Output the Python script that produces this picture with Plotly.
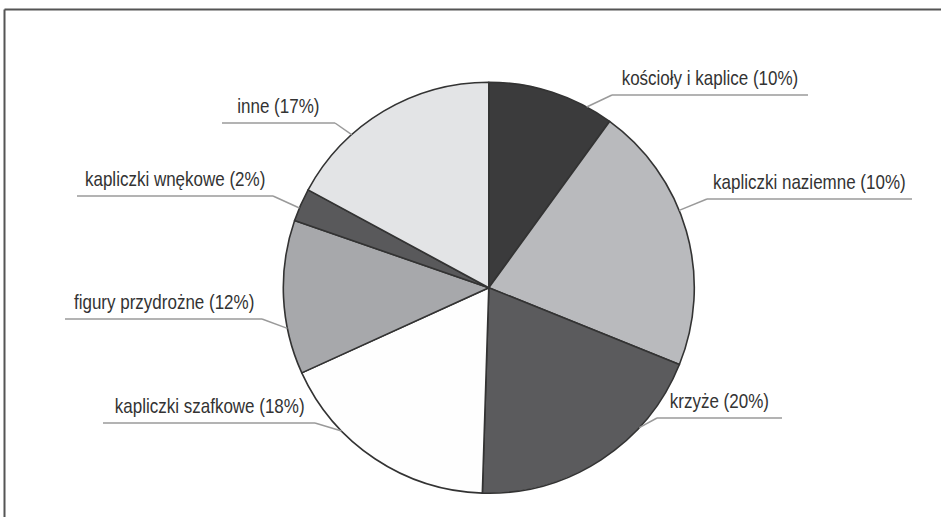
import math
import plotly.graph_objects as go

# ---- data ----
categories = ["kościoły i kaplice", "kapliczki naziemne", "krzyże", "kapliczki szafkowe",
              "figury przydrożne", "kapliczki wnękowe", "inne"]
label_pct = [10, 10, 20, 18, 12, 2, 17]
slice_values = [10.0, 21.1, 19.4, 17.7, 12.1, 2.6, 17.1]

# ---- styles ----
colors = ["#3b3b3c", "#b9babd", "#5b5b5d", "#fefefe", "#a7a8ab", "#59595b", "#e3e4e6"]
W, H = 941, 517
CX, CY, R = 488.8, 287.7, 205.5          # pie centre / radius in pixels
FONT = "Liberation Sans, Arial, sans-serif"
FONT_SIZE = 20
CONDENSE = 0.85                          # horizontal condensing of the label font

# label layout: where along the slice the leader starts, underline y and x-extent (pixels)
label_layout = [
    dict(frac=0.79, y=95,  x0=612, x1=808, side="right"),
    dict(frac=0.42, y=199, x0=707, x1=912, side="right"),
    dict(frac=0.30, y=418, x0=657, x1=782, side="right"),
    dict(frac=0.69, y=423, x0=103, x1=315, side="left"),
    dict(frac=0.30, y=319, x0=65,  x1=262, side="left"),
    dict(frac=0.40, y=196, x0=77,  x1=273, side="left"),
    dict(frac=0.32, y=123, x0=222, x1=335, side="left"),
]

def px(x):
    return x / W

def py(y):
    return 1 - y / H

fig = go.Figure(go.Pie(
    labels=categories,
    values=slice_values,
    sort=False,
    direction="clockwise",
    rotation=0,
    marker=dict(colors=colors, line=dict(color="#333333", width=1.6)),
    textinfo="none",
    hoverinfo="skip",
    showlegend=False,
    domain=dict(x=[px(CX - R), px(CX + R)], y=[py(CY + R), py(CY - R)]),
))

shapes = []
annotations = []
total = sum(slice_values)
cum = 0.0
for cat, pct, v, lay in zip(categories, label_pct, slice_values, label_layout):
    a0 = cum / total * 360
    a1 = (cum + v) / total * 360
    cum += v
    ang = math.radians(a0 + lay["frac"] * (a1 - a0))
    ax = CX + R * math.sin(ang)
    ay = CY - R * math.cos(ang)
    ex = lay["x0"] if lay["side"] == "right" else lay["x1"]
    line_style = dict(color="#9a9a9a", width=1.5)
    shapes.append(dict(type="line", xref="paper", yref="paper",
                       x0=px(ax), y0=py(ay), x1=px(ex), y1=py(lay["y"]), line=line_style))
    shapes.append(dict(type="line", xref="paper", yref="paper",
                       x0=px(lay["x0"]), y0=py(lay["y"]), x1=px(lay["x1"]), y1=py(lay["y"]),
                       line=line_style))
    annotations.append(dict(
        x=px((lay["x0"] + lay["x1"]) / 2), y=py(lay["y"] - 17),
        xref="paper", yref="paper", xanchor="center", yanchor="middle",
        text=f"{cat} ({pct}%)", showarrow=False,
        font=dict(family=FONT, size=FONT_SIZE, color="#333333"),
    ))

# frame lines (top and left)
frame = dict(color="#555555", width=2)
shapes.append(dict(type="line", xref="paper", yref="paper",
                   x0=px(4.5), y0=py(9.5), x1=1, y1=py(9.5), line=frame))
shapes.append(dict(type="line", xref="paper", yref="paper",
                   x0=px(4.5), y0=py(9.5), x1=px(4.5), y1=0, line=frame))

fig.update_layout(
    width=W, height=H,
    margin=dict(l=0, r=0, t=0, b=0),
    paper_bgcolor="white", plot_bgcolor="white",
    shapes=shapes, annotations=annotations,
)

post = """
document.body.style.margin = '0';
document.body.style.overflow = 'hidden';
document.querySelectorAll('text.annotation-text').forEach(function(t) {
    var b = t.getBBox();
    var cx = b.x + b.width / 2;
    t.setAttribute('transform',
        'translate(' + cx + ',0) scale(%s,1) translate(' + (-cx) + ',0)');
});
""" % CONDENSE

fig.write_html("out.html", post_script=post, config={"displayModeBar": False})
